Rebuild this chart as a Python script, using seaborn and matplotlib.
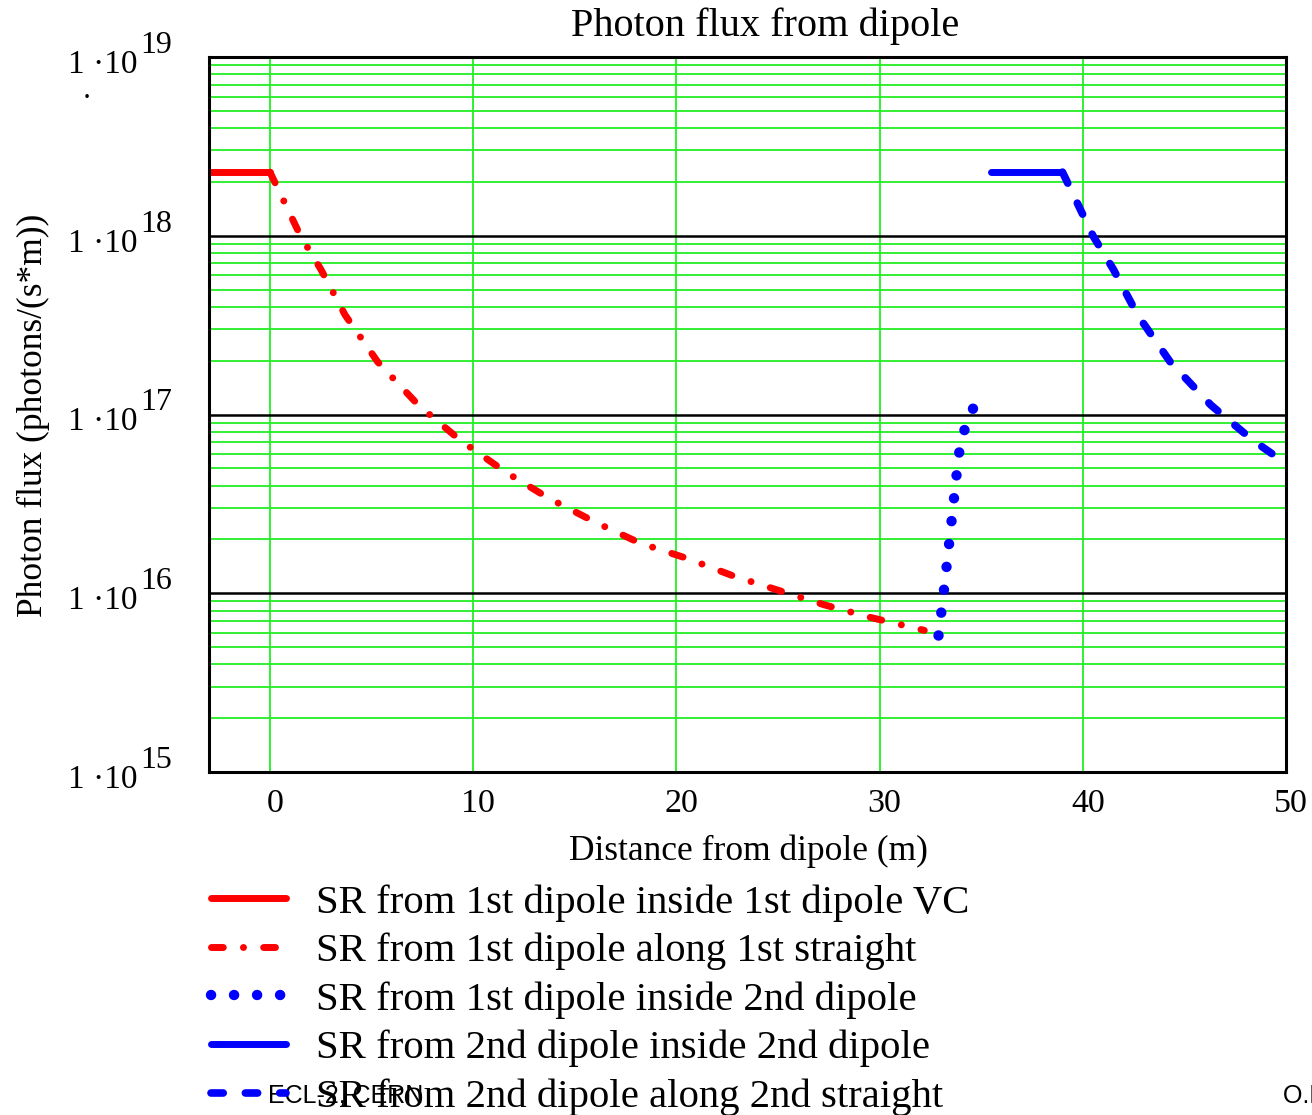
import numpy as np
import pandas as pd
import matplotlib
matplotlib.use("Agg")
import matplotlib.pyplot as plt
import matplotlib.transforms as mtransforms
from matplotlib.ticker import LogLocator, FixedLocator, NullFormatter
import seaborn as sns

# ---- data -------------------------------------------------------------
# SR inside the 1st dipole vacuum chamber (flat level)
vc1_x = [-3.3, 0.0]
vc1_flux = [2.27e18, 2.27e18]

# SR along a straight, as a function of distance from the dipole exit
straight_dist = [0.0, 1.5, 2.5, 3.7, 5.3, 7.3, 9.35, 11.6, 13.7, 16.0,
                 18.2, 20.5, 22.8, 25.0, 27.3, 29.6, 32.2]
straight_flux = [2.27e18, 1.0e18, 6.5e17, 3.6e17, 1.97e17, 1.13e17, 7.2e16,
                 4.76e16, 3.41e16, 2.5e16, 1.91e16, 1.57e16, 1.25e16,
                 1.04e16, 8.6e15, 7.3e15, 6.2e15]

# SR from the 1st dipole hitting the 2nd dipole chamber
d2_from1_x = [32.9, 33.15, 33.4, 33.65, 33.9, 34.2, 34.7]
d2_from1_flux = [5.8e15, 1.0e16, 1.8e16, 3.3e16, 6.0e16, 8.4e16, 1.15e17]

# SR inside the 2nd dipole chamber (flat level)
vc2_x = [35.5, 39.0]
vc2_flux = [2.27e18, 2.27e18]

dipole2_exit = 39.0

labels = ["SR from 1st dipole inside 1st dipole VC",
          "SR from 1st dipole along 1st straight",
          "SR from 1st dipole inside 2nd dipole",
          "SR from 2nd dipole inside 2nd dipole",
          "SR from 2nd dipole along 2nd straight"]

x_ticks = [0, 10, 20, 30, 40, 50]
y_decades = [15, 16, 17, 18, 19]

# ---- style ------------------------------------------------------------
sns.set_theme(style="white")
plt.rcParams["font.family"] = ["Liberation Serif", "DejaVu Serif"]
plt.rcParams["lines.solid_capstyle"] = "round"
plt.rcParams["lines.dash_capstyle"] = "round"

W, H = 1312, 1115
fig = plt.figure(figsize=(W / 100, H / 100), dpi=100)
ax = fig.add_axes([209 / W, 1 - 772 / H, (1286 - 209) / W, (772 - 57) / H])

red, blue = "#ff0000", "#0000ff"

series = [
    (vc1_x, vc1_flux, red, 5.0, "-"),
    (straight_dist, straight_flux, red, 5.0, (0, (1.7, 2.9, 0.01, 2.9))),
    (d2_from1_x, d2_from1_flux, blue, 7.5, (0, (0.01, 2.2))),
    (vc2_x, vc2_flux, blue, 5.0, "-"),
    ([d + dipole2_exit for d in straight_dist], straight_flux, blue, 5.5,
     (0, (1.6, 2.9))),
]

handles = []
for (xs, ys, col, lw, ls), lab in zip(series, labels):
    df = pd.DataFrame({"x": xs, "flux": ys})
    n_before = len(ax.lines)
    sns.lineplot(data=df, x="x", y="flux", ax=ax, color=col, lw=lw,
                 linestyle=ls, estimator=None, sort=False, label=lab,
                 legend=False)
    handles.append(ax.lines[n_before])

ax.set_yscale("log")
ax.set_xlim(-3, 50)
ax.set_ylim(1e15, 1e19)

# grid: green minor decades / verticals, black decade lines
ax.xaxis.set_major_locator(FixedLocator(x_ticks))
ax.yaxis.set_major_locator(LogLocator(base=10, numticks=10))
ax.yaxis.set_minor_locator(LogLocator(base=10, subs=np.arange(2, 10), numticks=20))
ax.yaxis.set_minor_formatter(NullFormatter())
ax.grid(False)
ax.grid(which="minor", axis="y", color="#22ee22", lw=1.3)
ax.grid(which="major", axis="y", color="black", lw=1.8)
ax.grid(which="major", axis="x", color="#22ee22", lw=1.3)
ax.set_axisbelow(True)
for sp in ax.spines.values():
    sp.set_color("black")
    sp.set_linewidth(2.2)

ax.tick_params(axis="both", which="both", length=0)
ax.tick_params(axis="y", labelleft=False)
ax.tick_params(axis="x", labelsize=24.5, pad=12, colors="black")
ax.set_xticklabels([str(t) for t in x_ticks])
shift = mtransforms.ScaledTranslation(5 / 100, 0, fig.dpi_scale_trans)
for lbl in ax.get_xticklabels():
    lbl.set_transform(lbl.get_transform() + shift)

ax.set_xlabel("")
ax.set_ylabel("")

# y tick labels in "1 ·10^n" form
btr = mtransforms.blended_transform_factory(fig.transFigure, ax.transData)
for k in y_decades:
    ax.annotate("1 ·10", xy=(137 / W, 10.0 ** k), xycoords=btr,
                xytext=(0, -16), textcoords="offset pixels",
                ha="right", va="baseline", fontsize=24, color="black",
                annotation_clip=False)
    ax.annotate(str(k), xy=(140 / W, 10.0 ** k), xycoords=btr,
                xytext=(0, 4), textcoords="offset pixels",
                ha="left", va="baseline", fontsize=23, color="black",
                annotation_clip=False)
fig.text(87 / W, 1 - 100 / H, "·", ha="center", va="center", fontsize=22,
         color="black")

# titles
fig.text(765 / W, 1 - 36 / H, "Photon flux from dipole", ha="center",
         va="baseline", fontsize=29, color="black")
fig.text(748 / W, 1 - 860 / H, "Distance from dipole (m)", ha="center",
         va="baseline", fontsize=25.5, color="black")
fig.text(33 / W, 1 - 415 / H, "Photon flux (photons/(s*m))", ha="center",
         va="center", rotation=90, fontsize=25.5, color="black")

# footer
fig.text(268 / W, 1 - 1103 / H, "ECL-2, CERN", family="Liberation Sans",
         fontsize=18, va="baseline", color="black", zorder=-1)
fig.text(1283 / W, 1 - 1103 / H, "O.B. Malyshev", family="Liberation Sans",
         fontsize=18, va="baseline", color="black", zorder=-1)

leg = ax.legend(handles, labels, loc="upper left",
                bbox_to_anchor=(210.5 / W, 1 - 884 / H),
                bbox_transform=fig.transFigure, frameon=False, fontsize=29.3,
                handlelength=1.85, handletextpad=0.75, labelspacing=0.27,
                borderpad=0, borderaxespad=0)
for t in leg.get_texts():
    t.set_color("black")

fig.savefig("out.png", dpi=100)
